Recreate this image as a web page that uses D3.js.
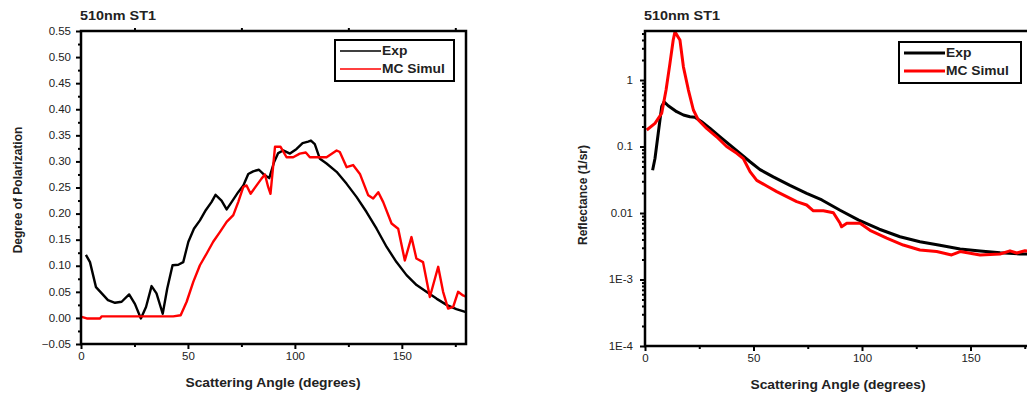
<!DOCTYPE html>
<html>
<head>
<meta charset="utf-8">
<script src="https://cdn.jsdelivr.net/npm/d3@7"></script>
<style>
  body { margin: 0; background: #fff; }
  text { font-family: "Liberation Sans", Arial, sans-serif; fill: #222; }
</style>
</head>
<body>
<div id="chart"></div>
<script>
/* DATA */
// left panel - degree of polarization vs scattering angle
const polExpAngle = [2.3, 4.2, 7, 9.7, 12.6, 15.9, 19, 22.5, 25.2, 28, 30.4, 33, 35.3, 38.2, 40.3, 42.8, 45.5, 47.8, 50.2, 52.8, 55.6, 58.4, 61, 62.9, 65.7, 68.1, 70.4, 73.5, 75.9, 78.2, 80.5, 83.2, 85.2, 88, 90.3, 92.2, 94.5, 97.7, 100.8, 103.6, 106.2, 107.5, 109.3, 111.7, 114.8, 119.5, 124.2, 128.8, 133.5, 138.2, 142.9, 147.5, 152.2, 156.9, 161.5, 166.2, 170.9, 175.5, 180];
const polExpValue = [0.121, 0.107, 0.059, 0.047, 0.034, 0.029, 0.031, 0.045, 0.027, -0.001, 0.021, 0.061, 0.047, 0.008, 0.056, 0.101, 0.102, 0.107, 0.146, 0.171, 0.187, 0.207, 0.222, 0.236, 0.225, 0.208, 0.222, 0.241, 0.254, 0.276, 0.281, 0.284, 0.276, 0.268, 0.299, 0.316, 0.321, 0.315, 0.324, 0.335, 0.338, 0.340, 0.333, 0.305, 0.296, 0.280, 0.257, 0.232, 0.203, 0.171, 0.136, 0.107, 0.082, 0.063, 0.050, 0.037, 0.025, 0.017, 0.011];
const polSimAngle = [0.3, 2.7, 8.9, 9.7, 43.1, 46.6, 49.4, 52.5, 55.6, 58.7, 61.8, 65, 68.1, 71.2, 73.5, 75.9, 77.4, 79.3, 82.1, 84.4, 86, 87.5, 88.6, 90.7, 93.3, 96.1, 99.2, 102.3, 105.1, 107, 114.8, 119.5, 121, 124.2, 127.2, 130.4, 134.3, 136.6, 139, 141.3, 145.2, 148.3, 151.4, 154.5, 156.8, 159.9, 163.1, 167, 169.3, 171.6, 174, 176.3, 178.6, 180];
const polSimValue = [0.002, -0.001, -0.001, 0.003, 0.003, 0.005, 0.031, 0.069, 0.101, 0.123, 0.146, 0.165, 0.184, 0.197, 0.222, 0.251, 0.254, 0.238, 0.254, 0.267, 0.275, 0.251, 0.238, 0.328, 0.328, 0.308, 0.308, 0.315, 0.317, 0.308, 0.308, 0.321, 0.318, 0.289, 0.293, 0.276, 0.235, 0.229, 0.241, 0.222, 0.181, 0.171, 0.110, 0.155, 0.114, 0.107, 0.040, 0.098, 0.050, 0.018, 0.021, 0.050, 0.043, 0.041];

// right panel - reflectance vs scattering angle
const refExpAngle = [3.5, 4.6, 6.1, 7.7, 8.8, 10.7, 14.6, 17.7, 20.7, 23, 26.1, 30, 34.6, 39.2, 43.8, 48.4, 53, 59.1, 66.8, 74.5, 81.5, 89.9, 98.5, 108, 117.5, 126.7, 135.9, 145.2, 154.4, 163.6, 172.8, 180];
const refExpValue = [0.044, 0.066, 0.158, 0.40, 0.47, 0.41, 0.334, 0.298, 0.281, 0.275, 0.236, 0.187, 0.14, 0.105, 0.079, 0.059, 0.045, 0.035, 0.026, 0.0198, 0.0157, 0.011, 0.0078, 0.0057, 0.0044, 0.0037, 0.00327, 0.00288, 0.00269, 0.00253, 0.00242, 0.0024];
const refSimAngle = [0.8, 4.6, 7.7, 9.7, 11.5, 13, 13.8, 16.1, 17.7, 20, 22.3, 24.6, 28.4, 33, 37.6, 42.3, 45.3, 48.4, 51.5, 56.1, 60.7, 65.3, 69.9, 74.5, 77.6, 82.2, 86.8, 89.9, 90.6, 93, 99.1, 103.7, 111.4, 119, 126.7, 134.4, 141.3, 145.2, 154.4, 163.6, 168.2, 171.3, 175.1, 180];
const refSimValue = [0.177, 0.223, 0.316, 0.707, 1.78, 4.0, 5.3, 4.0, 1.58, 0.707, 0.354, 0.25, 0.187, 0.14, 0.1, 0.079, 0.066, 0.042, 0.031, 0.0255, 0.021, 0.0176, 0.0148, 0.0132, 0.0108, 0.0108, 0.0101, 0.0070, 0.0062, 0.0070, 0.0070, 0.0055, 0.0042, 0.0033, 0.00278, 0.00263, 0.00234, 0.00263, 0.00234, 0.00242, 0.0027, 0.0025, 0.0027, 0.0026];

// ticks and labels
const angleTicks = [0, 50, 100, 150];
const angleMinorTicks = [25, 75, 125, 175];
const polTicks = [-0.05, 0, 0.05, 0.1, 0.15, 0.2, 0.25, 0.3, 0.35, 0.4, 0.45, 0.5, 0.55];
const polMinorTicks = [-0.025, 0.025, 0.075, 0.125, 0.175, 0.225, 0.275, 0.325, 0.375, 0.425, 0.475, 0.525];
const reflTicks = [1e-4, 1e-3, 0.01, 0.1, 1];
const reflTickLabels = ["1E-4", "1E-3", "0.01", "0.1", "1"];
const seriesNames = ["Exp", "MC Simul"];
const seriesColors = ["#000000", "#ff0000"];
const panelTitle = "510nm ST1";
const xTitle = "Scattering Angle (degrees)";

/* SVG */
const svg = d3.select("#chart")
  .append("svg")
  .attr("width", 1027)
  .attr("height", 396);

function zip(a, b) { return a.map((d, i) => [d, b[i]]); }

function drawPanel(p) {
  const g = svg.append("g");

  // title
  g.append("text")
    .attr("class", "wide")
    .attr("x", p.x.range()[0] - 1)
    .attr("y", 20)
    .attr("font-size", 12.5)
    .attr("font-weight", "bold")
    .text(panelTitle);

  // lines
  const line = d3.line().x(d => p.x(d[0])).y(d => p.y(d[1]));
  p.series.forEach((s, i) => {
    g.append("path")
      .datum(s)
      .attr("fill", "none")
      .attr("stroke", seriesColors[i])
      .attr("stroke-width", p.lineWidth)
      .attr("stroke-linejoin", "round")
      .attr("d", line);
  });

  // frame
  const [x0, x1] = p.x.range();
  const [yb, yt] = p.y.range();
  g.append("rect")
    .attr("x", x0).attr("y", yt)
    .attr("width", x1 - x0).attr("height", yb - yt)
    .attr("fill", "none")
    .attr("stroke", "#000")
    .attr("stroke-width", 2.5);

  // x axis
  g.append("g").attr("transform", `translate(0,${yb})`)
    .call(d3.axisBottom(p.x).tickValues(angleTicks).tickSize(5).tickPadding(4).tickFormat(d3.format("d")));
  g.append("g").attr("transform", `translate(0,${yb})`)
    .call(d3.axisBottom(p.x).tickValues(angleMinorTicks).tickSize(3).tickFormat(""));
  if (p.topTicks) {
    g.append("g").attr("transform", `translate(0,${yt})`)
      .call(d3.axisTop(p.x).tickValues(angleMinorTicks).tickSize(3).tickFormat(""));
  }

  // y axis
  g.append("g").attr("transform", `translate(${x0},0)`)
    .call(d3.axisLeft(p.y).tickValues(p.yTicks).tickSize(5).tickPadding(p.yPad).tickFormat(p.yFormat));
  g.append("g").attr("transform", `translate(${x0},0)`)
    .call(d3.axisLeft(p.y).tickValues(p.yMinor).tickSize(3).tickFormat(""));

  g.selectAll(".domain").remove();
  g.selectAll(".tick line").attr("stroke", "#000").attr("stroke-width", 2);
  g.selectAll(".tick text")
    .attr("class", "wide")
    .attr("font-size", 10)
    .attr("fill", "#333")
    .attr("font-family", "Liberation Sans, Arial, sans-serif");

  // axis titles
  g.append("text")
    .attr("class", "wide")
    .attr("x", p.xTitleX)
    .attr("y", yb + 43)
    .attr("text-anchor", "middle")
    .attr("font-size", 12)
    .attr("font-weight", "bold")
    .text(xTitle);
  g.append("text")
    .attr("transform", `translate(${p.yTitleX},${p.yTitleY}) rotate(-90)`)
    .attr("text-anchor", "middle")
    .attr("font-size", 12)
    .attr("font-weight", "bold")
    .text(p.yTitle);

  // legend
  const lg = g.append("g").attr("transform", `translate(${p.legend[0]},${p.legend[1]})`);
  lg.append("rect")
    .attr("width", p.legend[2]).attr("height", 41)
    .attr("fill", "#fff").attr("stroke", "#000").attr("stroke-width", 2);
  seriesNames.forEach((name, i) => {
    const yy = 11 + i * 18;
    lg.append("line")
      .attr("x1", 5).attr("x2", 46).attr("y1", yy).attr("y2", yy)
      .attr("stroke", seriesColors[i]).attr("stroke-width", p.legendLine);
    lg.append("text")
      .attr("class", "wide")
      .attr("x", 47).attr("y", yy + 4)
      .attr("font-size", 12)
      .attr("font-weight", "bold")
      .text(name);
  });
}

// left panel
drawPanel({
  x: d3.scaleLinear().domain([0, 180]).range([81, 466]),
  y: d3.scaleLinear().domain([-0.05, 0.55]).range([344, 31]),
  series: [zip(polExpAngle, polExpValue), zip(polSimAngle, polSimValue)],
  yTicks: polTicks,
  yMinor: polMinorTicks,
  yFormat: d3.format(".2f"),
  yPad: 5,
  yTitle: "Degree of Polarization",
  yTitleX: 22, yTitleY: 190,
  xTitleX: 273,
  topTicks: true,
  lineWidth: 2.4,
  legendLine: 1.6,
  legend: [335, 40, 119]
});

// right panel
const minorLog = [];
[1e-4, 1e-3, 1e-2, 1e-1, 1].forEach(dec => {
  for (let k = 2; k <= 9; k++) if (dec * k <= 5.46) minorLog.push(dec * k);
});
drawPanel({
  x: d3.scaleLinear().domain([0, 180]).range([645, 1035.6]),
  y: d3.scaleLog().domain([1e-4, 5.46]).range([346, 31]),
  series: [zip(refExpAngle, refExpValue), zip(refSimAngle, refSimValue)],
  yTicks: reflTicks,
  yMinor: minorLog,
  yFormat: (d, i) => reflTickLabels[i],
  yPad: 7,
  yTitle: "Reflectance (1/sr)",
  yTitleX: 587, yTitleY: 195,
  xTitleX: 838,
  topTicks: false,
  lineWidth: 3,
  legendLine: 3,
  legend: [899, 42, 122]
});

// the original figure is stretched sideways, so widen horizontal text to match
svg.selectAll("text.wide").each(function () {
  const w = this.getComputedTextLength();
  d3.select(this).attr("textLength", w * 1.15).attr("lengthAdjust", "spacingAndGlyphs");
});
</script>
</body>
</html>
